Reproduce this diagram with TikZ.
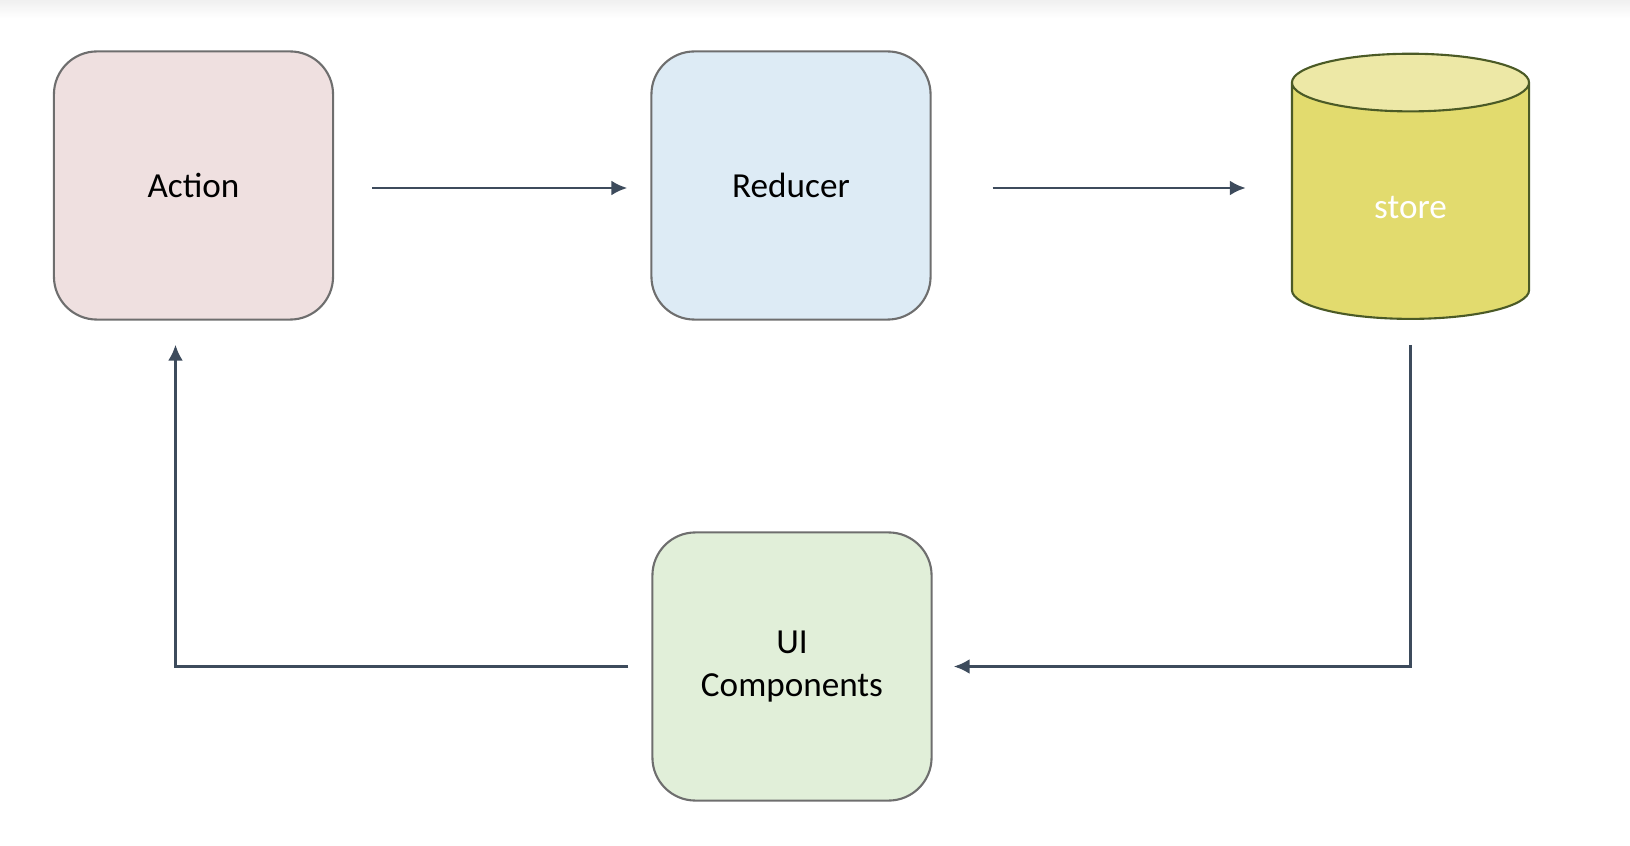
\documentclass[tikz,border=0pt]{standalone}
\usepackage{fontspec}
\setmainfont{Carlito}
\usepackage{xcolor}
\usepackage{tikz}
\usetikzlibrary{arrows.meta,positioning,calc,shapes.geometric}

\definecolor{actionfill}{HTML}{EFE0E0}
\definecolor{reducerfill}{HTML}{DDEBF5}
\definecolor{uifill}{HTML}{E1EFD9}
\definecolor{storebody}{HTML}{E2DB6E}
\definecolor{storetop}{HTML}{EDE8A6}
\definecolor{storeline}{HTML}{4B5A26}
\definecolor{boxline}{HTML}{6E6E6E}
\definecolor{flowline}{HTML}{3D4B5C}

\tikzset{
  box/.style={draw=boxline, line width=0.6pt, rounded corners=0.43cm,
    minimum width=2.79cm, minimum height=2.68cm, align=center,
    font=\fontsize{10}{12.4}\selectfont},
  flow/.style={draw=flowline, line width=0.85pt,
    -{Latex[length=1.6mm,width=1.5mm]}},
}

\begin{document}
\begin{tikzpicture}[x=0.01cm, y=-0.01cm]
  \useasboundingbox (0,0) rectangle (1630,846);
  \shade[top color=black!6, bottom color=white] (0,0) rectangle (1630,18);

  % boxes
  \node[box, fill=actionfill] (action) at (193.5,185.5) {Action};
  \node[box, fill=reducerfill] (reducer) at (791,185.5) {Reducer};
  \node[box, fill=uifill] (ui) at (792,666.5) {UI\\Components};

  % store - cylinder
  \node[cylinder, shape border rotate=90, aspect=0.6, draw=storeline,
    line width=0.6pt, cylinder uses custom fill, cylinder body fill=storebody,
    cylinder end fill=storetop, minimum width=2.37cm, minimum height=2.65cm,
    text=white, font=\fontsize{10}{12.4}\selectfont] (store) at (1410.5,207.5) {store};

  % flow around the loop
  \draw[flow, shorten <=0.38cm, shorten >=0.23cm]
    ([yshift=-0.025cm]action.east) -- ([yshift=-0.025cm]reducer.west);
  \draw[flow, shorten <=0.61cm, shorten >=0.45cm]
    ([yshift=-0.025cm]reducer.east) -- ([yshift=-0.025cm]reducer.east -| store.west);
  \draw[flow, shorten <=0.25cm, shorten >=0.21cm] (store.south) |- (ui.east);
  \draw[flow, shorten <=0.23cm, shorten >=0.24cm] (ui.west) -| ([xshift=-0.18cm]action.south);
\end{tikzpicture}
\end{document}
